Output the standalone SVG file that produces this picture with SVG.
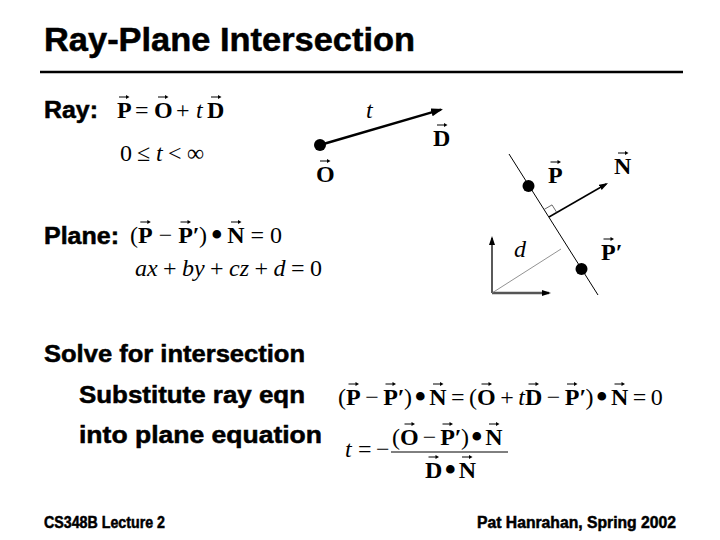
<svg xmlns="http://www.w3.org/2000/svg" xmlns:xlink="http://www.w3.org/1999/xlink" width="720" height="540" viewBox="0 0 720 540">
<style>
.h{font-family:"Liberation Sans",Arial,sans-serif;font-weight:bold;fill:#000;stroke:#000;stroke-width:0.5}
.m{font-family:"Liberation Serif","Times New Roman",serif;font-size:24px;fill:#000}
.b{font-weight:bold}
.i{font-style:italic}
.bu{font-size:36px}
.dot{fill:#000}
</style>
<defs>
<g id="va"><path d="M0,0 H8" stroke="#000" stroke-width="1" fill="none"/><path d="M7,-2 L10.5,0 L7,2 Z" fill="#000"/></g>
<marker id="ah" markerUnits="userSpaceOnUse" markerWidth="14" markerHeight="10" refX="10" refY="4" orient="auto"><path d="M0,0 L12,4 L0,8 Z" fill="#000"/></marker>
<marker id="ahs" markerUnits="userSpaceOnUse" markerWidth="12" markerHeight="8" refX="7" refY="3" orient="auto"><path d="M0,0 L9,3 L0,6 Z" fill="#000"/></marker>
</defs>
<rect width="720" height="540" fill="#fff"/>

<g id="title">
<text class="h" x="44" y="51" font-size="33" textLength="371" lengthAdjust="spacingAndGlyphs" stroke-width="0.9">Ray-Plane Intersection</text>
<line x1="40" y1="72" x2="683" y2="72" stroke="#000" stroke-width="2.5"/>
</g>

<g id="ray-heading"><text class="h" x="44" y="118" font-size="23" textLength="54" lengthAdjust="spacingAndGlyphs">Ray:</text></g>
<g id="ray-eq">
<text class="m"><tspan class="b" x="117" y="118">P</tspan><tspan x="135" y="118">=</tspan><tspan class="b" x="154" y="118">O</tspan><tspan x="176" y="118">+</tspan><tspan class="i" x="196" y="118">t</tspan><tspan class="b" x="207" y="118">D</tspan></text>
<use xlink:href="#va" href="#va" x="119" y="97"/><use xlink:href="#va" href="#va" x="158" y="97"/><use xlink:href="#va" href="#va" x="211" y="97"/>
</g>
<g id="ray-range">
<text class="m"><tspan x="120" y="161">0</tspan><tspan x="137" y="161">≤</tspan><tspan class="i" x="156" y="161">t</tspan><tspan x="168" y="161">&lt;</tspan><tspan x="187" y="161">∞</tspan></text>
</g>

<g id="plane-heading"><text class="h" x="44" y="244" font-size="23" textLength="75" lengthAdjust="spacingAndGlyphs">Plane:</text></g>
<g id="plane-eq">
<text class="m"><tspan x="130" y="243">(</tspan><tspan class="b" x="138" y="243">P</tspan><tspan x="158.7" y="243">−</tspan><tspan class="b" x="178.2" y="243">P′</tspan><tspan x="198.9" y="243">)</tspan><tspan class="bu" x="210.5" y="247">•</tspan><tspan class="b" x="227.3" y="243">N</tspan><tspan x="250.6" y="243">=</tspan><tspan x="270.1" y="243">0</tspan></text>
<use xlink:href="#va" href="#va" x="140.3" y="222"/><use xlink:href="#va" href="#va" x="180.5" y="222"/><use xlink:href="#va" href="#va" x="231" y="222"/>
</g>
<g id="plane-cartesian">
<text class="m i"><tspan x="135" y="276">a</tspan><tspan x="147" y="276">x</tspan><tspan x="163" y="276" font-style="normal">+</tspan><tspan x="182" y="276">b</tspan><tspan x="194" y="276">y</tspan><tspan x="210" y="276" font-style="normal">+</tspan><tspan x="229" y="276">c</tspan><tspan x="239.7" y="276">z</tspan><tspan x="254.5" y="276" font-style="normal">+</tspan><tspan x="273.5" y="276">d</tspan><tspan x="291" y="276" font-style="normal">=</tspan><tspan x="310" y="276" font-style="normal">0</tspan></text>
</g>

<g id="solve-heading"><text class="h" x="44" y="362" font-size="23" textLength="261" lengthAdjust="spacingAndGlyphs">Solve for intersection</text></g>
<g id="substitute-heading"><text class="h" x="79" y="403" font-size="23" textLength="226" lengthAdjust="spacingAndGlyphs">Substitute ray eqn</text></g>
<g id="into-heading"><text class="h" x="79" y="443" font-size="23" textLength="243" lengthAdjust="spacingAndGlyphs">into plane equation</text></g>

<g id="substitute-eq">
<text class="m"><tspan x="338" y="405">(</tspan><tspan class="b" x="346" y="405">P</tspan><tspan x="365.2" y="405">−</tspan><tspan class="b" x="383.2" y="405">P′</tspan><tspan x="403.9" y="405">)</tspan><tspan class="bu" x="414" y="409">•</tspan><tspan class="b" x="429.3" y="405">N</tspan><tspan x="451.1" y="405">=</tspan><tspan x="469.1" y="405">(</tspan><tspan class="b" x="477.1" y="405">O</tspan><tspan x="500.3" y="405">+</tspan><tspan class="i" x="518.3" y="405">t</tspan><tspan class="b" x="525" y="405">D</tspan><tspan x="546.8" y="405">−</tspan><tspan class="b" x="564.8" y="405">P′</tspan><tspan x="585.5" y="405">)</tspan><tspan class="bu" x="595.6" y="409">•</tspan><tspan class="b" x="610.9" y="405">N</tspan><tspan x="632.7" y="405">=</tspan><tspan x="650.7" y="405">0</tspan></text>
<use xlink:href="#va" href="#va" x="348.5" y="384"/><use xlink:href="#va" href="#va" x="385.5" y="384"/><use xlink:href="#va" href="#va" x="433" y="384"/><use xlink:href="#va" href="#va" x="481.5" y="384"/><use xlink:href="#va" href="#va" x="528.5" y="384"/><use xlink:href="#va" href="#va" x="567" y="384"/><use xlink:href="#va" href="#va" x="614.5" y="384"/>
</g>

<g id="solution-eq">
<text class="m"><tspan class="i" x="345" y="457">t</tspan><tspan x="358" y="457">=</tspan><tspan x="376" y="457">−</tspan></text>
<text class="m"><tspan x="392" y="445">(</tspan><tspan class="b" x="400" y="445">O</tspan><tspan x="422.7" y="445">−</tspan><tspan class="b" x="440.2" y="445">P′</tspan><tspan x="460.9" y="445">)</tspan><tspan class="bu" x="470.5" y="449">•</tspan><tspan class="b" x="485.3" y="445">N</tspan></text>
<line x1="391" y1="452" x2="508" y2="452" stroke="#000" stroke-width="1"/>
<text class="m"><tspan class="b" x="425" y="478">D</tspan><tspan class="bu" x="444" y="482">•</tspan><tspan class="b" x="458.7" y="478">N</tspan></text>
<use xlink:href="#va" href="#va" x="404.5" y="424"/><use xlink:href="#va" href="#va" x="442.5" y="424"/><use xlink:href="#va" href="#va" x="489" y="424"/>
<use xlink:href="#va" href="#va" x="428.5" y="457"/><use xlink:href="#va" href="#va" x="462" y="457"/>
</g>

<g id="ray-figure">
<circle class="dot" cx="320" cy="145" r="6"/>
<text class="m i" x="366" y="118">t</text>
<text class="m b" x="433" y="146">D</text>
<use xlink:href="#va" href="#va" x="437" y="125"/>
<text class="m b" x="316" y="182">O</text>
<use xlink:href="#va" href="#va" x="320" y="161"/>
</g>

<g id="plane-figure">
<circle class="dot" cx="528.5" cy="186" r="6"/>
<circle class="dot" cx="581.5" cy="269" r="6"/>
<text class="m b" x="548" y="183">P</text>
<use xlink:href="#va" href="#va" x="550.5" y="162"/>
<text class="m b" x="614" y="174">N</text>
<use xlink:href="#va" href="#va" x="618" y="153"/>
<text class="m b" x="601" y="260">P′</text>
<use xlink:href="#va" href="#va" x="603.5" y="239"/>
<text class="m i" x="514" y="257">d</text>
</g>

<g id="connectors" fill="none">
<line x1="320" y1="145" x2="441.1" y2="109.6" stroke="#000" stroke-width="2.5" marker-end="url(#ah)"/>
<line x1="509" y1="154" x2="598" y2="295" stroke="#000" stroke-width="1"/>
<line x1="549" y1="217" x2="606.3" y2="184" stroke="#000" stroke-width="1.5" marker-end="url(#ahs)"/>
<polyline points="544.2,209.4 552,204.9 556.8,212.5" stroke="#444" stroke-width="0.8"/>
<line x1="492" y1="293" x2="492" y2="238" stroke="#000" stroke-width="1.3" marker-end="url(#ahs)"/>
<line x1="492" y1="293" x2="549" y2="293" stroke="#555" stroke-width="2.5" marker-end="url(#ahs)"/>
<line x1="492" y1="293" x2="561" y2="249" stroke="#777" stroke-width="0.8"/>
</g>

<g id="footer">
<text class="h" x="44" y="528" font-size="16" textLength="121" lengthAdjust="spacingAndGlyphs" stroke-width="0.3">CS348B Lecture 2</text>
<text class="h" x="477" y="528" font-size="16" textLength="199" lengthAdjust="spacingAndGlyphs" stroke-width="0.3">Pat Hanrahan, Spring 2002</text>
</g>
</svg>
